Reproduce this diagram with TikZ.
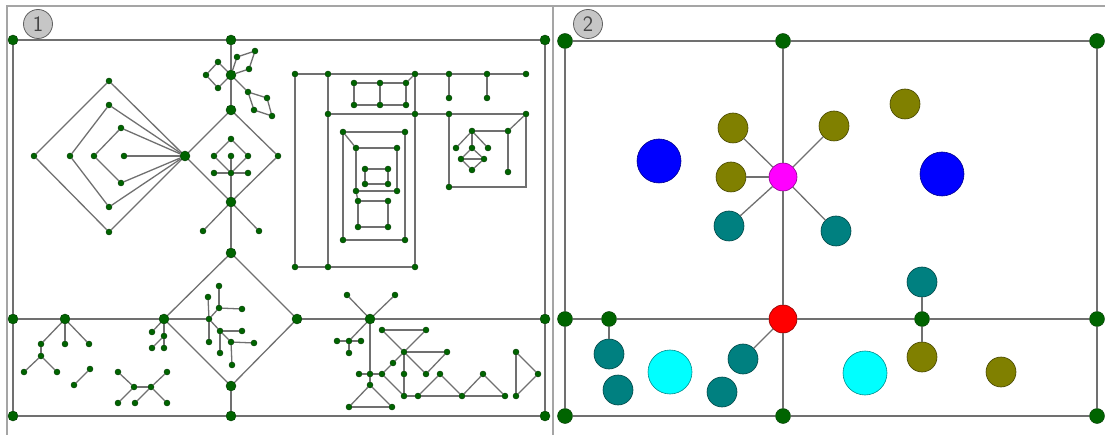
\documentclass[tikz,border=0pt]{standalone}
\usepackage{tikz}
\usetikzlibrary{positioning}
\definecolor{ngreen}{RGB}{0,100,0}
\definecolor{wire}{RGB}{112,112,112}
\definecolor{pane}{RGB}{165,165,165}
\definecolor{fuchsia}{RGB}{255,0,255}
\definecolor{aqua}{RGB}{0,255,255}
\definecolor{navyblue}{RGB}{0,0,255}
\definecolor{hotred}{RGB}{255,0,0}
\definecolor{khaki}{RGB}{128,128,0}
\definecolor{seagreen}{RGB}{0,128,128}
\tikzset{
  dot/.style={circle,fill=ngreen,draw=ngreen!55!black,line width=.4pt,inner sep=0pt,minimum size=6pt},
  hub/.style={dot,minimum size=10pt},
  knot/.style={dot,minimum size=15pt},
  ball/.style={circle,fill=#1,draw=#1!55!black,line width=.6pt,inner sep=0pt,minimum size=30pt},
  edge/.style={draw=wire,line width=1.3pt},
  badge/.style={circle,fill=gray!45,draw=gray!75!black,line width=.8pt,minimum size=29pt,inner sep=0pt,
    font=\sffamily\fontsize{22}{22}\selectfont,text=gray!55!black}
}
\begin{document}
\begin{tikzpicture}[x=1pt,y=-1pt]
\useasboundingbox (0,0) rectangle (1105,435);
\draw[pane,line width=1.2pt] (7,435) -- (7,6) -- (1105,6) (553,6) -- (553,435);
\node[badge] (n1) at (38,24) {1};
\node[badge] (n2) at (588,24) {2};
% panel 1
\foreach \n/\x/\y in {A1/13/40,A2/231/40,A3/545/40,B1/231/75,B2/231/110,B3/185/156,B4/231/202,
  C1/231/253,D1/13/319,D2/65/319,D3/164/319,D4/297/319,D5/370/319,D6/545/319,E1/231/386,
  F1/13/416,F2/231/416,F3/545/416}
  \node[hub] (\n) at (\x,\y) {};
\foreach \n/\x/\y in {q1/218/62,q2/206/75,q3/218/88,q4/237/57,q5/255/51,q6/249/69,
  q7/248/92,q8/267/98,q9/272/116,q10/254/110,
  r1/278/156,s1/231/139,s2/214/156,s3/248/156,s4/231/156,s5/214/173,s6/231/173,s7/248/173,
  s8/203/231,s9/259/231,
  l1/109/81,l2/34/156,l3/109/232,l4/109/105,l5/70/156,l6/109/207,l7/121/128,l8/94/156,
  l9/121/183,l10/124/156,
  t1/295/74,t2/328/74,t3/415/74,t4/449/74,t5/487/74,t6/526/74,t7/449/98,t8/487/98,
  u1/354/83,u2/380/83,u3/406/83,u4/354/105,u5/380/105,u6/406/105,
  m1/328/114,m2/415/114,m3/449/114,m4/526/114,b1/295/267,b2/328/267,b3/415/267,
  w1/343/132,w2/405/132,w3/343/240,w4/405/240,x1/356/148,x2/397/148,x3/397/191,x4/356/191,
  y1/365/169,y2/388/169,y3/365/184,y4/388/184,z1/358/201,z2/388/201,z3/358/227,z4/388/227,
  k1/472/131,k2/508/131,k3/456/148,k4/472/148,k5/488/148,k6/461/159,k7/484/159,k8/472/170,
  k9/508/172,k10/449/187,
  g1/41/344,g2/65/344,g3/89/344,g4/41/356,g5/24/372,g6/57/372,h1/74/385,h2/90/369,
  o1/152/332,o2/164/336,o3/152/348,o4/164/348,
  n1/118/372,n2/134/387,n3/151/387,n4/167/372,n5/118/403,n6/135/403,n7/167/403,
  i1/208/297,i2/219/286,i3/219/308,i4/242/309,i5/209/319,i6/209/342,i7/220/331,i8/242/331,
  i9/220/353,i10/231/342,i11/254/343,i12/232/365,
  j1/347/295,j2/395/295,j3/349/341,j4/337/341,j5/361/341,j6/349/353,j7/370/374,j8/370/385,
  j9/359/374,j10/382/374,j11/349/407,j12/392/407,j13/393/363,j14/404/352,j15/426/374,
  j16/447/352,j17/404/374,j18/404/396,j19/418/396,j20/462/396,j21/505/396,j22/440/374,
  j23/483/374,j24/516/352,j25/538/374,j26/516/396,c1/382/330,c2/426/330}
  \node[dot] (\n) at (\x,\y) {};
\coordinate (kc) at (526,187);
\foreach \a/\b in {A1/A2,A2/A3,A1/D1,D1/F1,A3/D6,D6/F3,F1/F2,F2/F3,A2/B1,B1/B2,
  B2/B3,B3/B4,B4/r1,r1/B2,B4/C1,B4/s8,B4/s9,
  s1/s2,s1/s3,s2/s6,s3/s6,s5/s6,s6/s7,s4/s6,s6/B4,
  B3/l1,l1/l2,l2/l3,l3/B3,B3/l4,l4/l5,l5/l6,l6/B3,B3/l7,l7/l8,l8/l9,l9/B3,B3/l10,
  B1/q1,q1/q2,q2/q3,q3/B1,B1/q4,q4/q5,q5/q6,q6/B1,B1/q7,q7/q8,q8/q9,q9/q10,q10/q7,
  t1/t2,t2/t3,t3/t4,t4/t5,t5/t6,t1/b1,t2/m1,m1/b2,t3/m2,m2/b3,t4/t7,t5/t8,
  u1/u2,u2/u3,u4/u5,u5/u6,u1/u4,u2/u5,u3/u6,u3/t3,
  m1/m2,m2/m3,m3/m4,m3/k10,b1/b2,b2/b3,
  w1/w2,w2/w4,w4/w3,w3/w1,w1/x1,x1/x2,x2/x3,x3/x4,x4/x1,x4/z1,
  y1/y2,y2/y4,y4/y3,y3/y1,z1/z2,z2/z4,z4/z3,z3/z1,
  k1/k2,k2/k9,k2/m4,k1/k3,k1/k4,k1/k5,k4/k6,k6/k8,k8/k7,k7/k4,k6/k7,
  D1/D2,D2/D3,D3/C1,C1/D4,D4/E1,E1/D3,E1/F2,D4/D5,D5/D6,
  D2/g1,D2/g2,D2/g3,g1/g4,g4/g5,g4/g6,h1/h2,
  n1/n2,n2/n3,n3/n4,n2/n5,n3/n6,n3/n7,D3/o1,D3/o2,o2/o3,o2/o4,
  D3/i5,i1/i5,i5/i6,i2/i3,i3/i4,i5/i3,i5/i7,i7/i8,i7/i9,i7/i10,i10/i11,i10/i12,
  D5/j1,D5/j2,D5/j3,j4/j3,j3/j5,j3/j6,D5/j7,j7/j8,j9/j7,j7/j10,j8/j11,j11/j12,j12/j8,
  j10/j13,j13/j14,c1/c2,c1/j14,j14/j15,j14/c2,j14/j16,j16/j15,j14/j17,j17/j18,j10/j18,
  j18/j19,j19/j20,j20/j21,j19/j22,j22/j20,j20/j23,j23/j21,j24/j26,j24/j25,j25/j26}
  \draw[edge] (\a) -- (\b);
\draw[edge] (k10) -- (kc) -- (m4);
% panel 2
\foreach \n/\x/\y in {P1/565/41,P2/783/41,P3/1097/41,P4/565/319,P5/609/319,P6/922/319,
  P7/1097/319,P8/565/416,P9/783/416,P10/1097/416}
  \node[knot] (\n) at (\x,\y) {};
\node[ball=fuchsia,minimum size=28pt] (mag) at (783,177) {};
\node[ball=hotred,minimum size=28pt] (hot) at (783,319) {};
\foreach \n/\x/\y/\c/\s in {bl1/659/161/navyblue/44,bl2/942/174/navyblue/44,cy1/670/372/aqua/44,
  cy2/865/373/aqua/44,ol1/733/128/khaki/30,ol2/834/126/khaki/30,ol3/905/104/khaki/30,
  ol4/731/177/khaki/30,ol5/922/357/khaki/30,ol6/1001/372/khaki/30,te1/729/226/seagreen/30,
  te2/836/231/seagreen/30,te3/922/282/seagreen/30,te4/609/354/seagreen/30,te5/743/359/seagreen/30,
  te6/618/390/seagreen/30,te7/722/392/seagreen/30}
  \node[ball=\c,minimum size=\s pt] (\n) at (\x,\y) {};
\foreach \a/\b in {P1/P2,P2/P3,P1/P4,P4/P8,P3/P7,P7/P10,P8/P9,P9/P10,P2/mag,mag/hot,
  hot/P9,P4/P5,P5/hot,hot/P6,P6/P7,mag/ol1,mag/ol2,mag/ol4,mag/te1,mag/te2,hot/te5,
  P5/te4,P6/te3,P6/ol5}
  \draw[edge] (\a) -- (\b);
\end{tikzpicture}
\end{document}
